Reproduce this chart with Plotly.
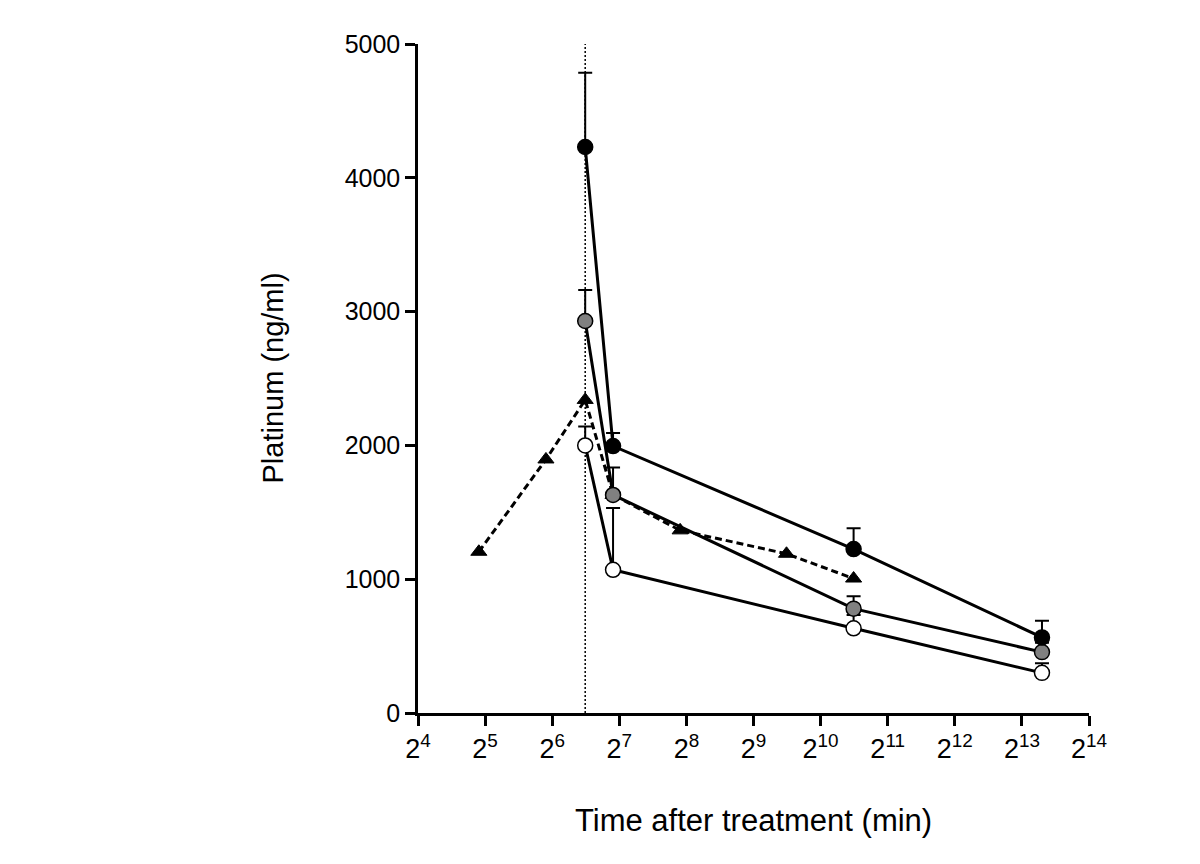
import math
import plotly.graph_objects as go

# Data
times_circles = [90, 120, 1440, 10080]
black_vals = [4230, 1995, 1225, 565]
black_err = [555, 97, 155, 125]
grey_vals = [2930, 1630, 780, 455]
grey_err = [232, 205, 92, 70]
white_vals = [2000, 1070, 633, 300]
white_err = [142, 462, 100, 72]

times_tri = [30, 60, 90, 120, 240, 720, 1440]
tri_vals = [1205, 1895, 2340, 1630, 1365, 1190, 1005]

infusion_end = 90
x_powers = list(range(4, 15))
x_tickvals = [2 ** p for p in x_powers]
x_ticktext = [f"2<sup>{p}</sup>" for p in x_powers]
y_tickvals = [0, 1000, 2000, 3000, 4000, 5000]

FONT = "Liberation Sans, Arial, sans-serif"

fig = go.Figure()

# vertical dotted line at end of infusion
fig.add_trace(go.Scatter(
    x=[infusion_end, infusion_end], y=[0, 5000], mode="lines",
    line=dict(color="black", width=1.5, dash="2px,2px"),
    hoverinfo="skip", showlegend=False))

# triangles (dashed)
fig.add_trace(go.Scatter(
    x=times_tri, y=tri_vals, mode="lines+markers",
    line=dict(color="black", width=3, dash="7px,4px"),
    marker=dict(symbol="triangle-up", size=14, color="black",
                line=dict(color="black", width=1)),
    showlegend=False))


def circle_series(vals, errs, fill):
    return go.Scatter(
        x=times_circles, y=vals, mode="lines+markers",
        line=dict(color="black", width=3),
        marker=dict(symbol="circle", size=15, color=fill,
                    line=dict(color="black", width=1.5)),
        error_y=dict(type="data", symmetric=False, array=errs,
                     arrayminus=[0] * len(errs), color="black",
                     thickness=2, width=7),
        showlegend=False)


fig.add_trace(circle_series(white_vals, white_err, "white"))
fig.add_trace(circle_series(grey_vals, grey_err, "#808080"))
fig.add_trace(circle_series(black_vals, black_err, "black"))

fig.update_layout(
    width=1200, height=864,
    margin=dict(l=410, r=119, t=36, b=159),
    plot_bgcolor="white", paper_bgcolor="white",
    font=dict(family=FONT, color="black"),
    xaxis=dict(
        type="log",
        range=[math.log10(16), math.log10(16384)],
        tickvals=x_tickvals, ticktext=x_ticktext,
        ticks="outside", ticklen=10, tickwidth=2.5, tickcolor="black",
        showline=True, linecolor="black", linewidth=2.5,
        showgrid=False, zeroline=False,
        tickfont=dict(size=27, family=FONT),
    ),
    yaxis=dict(
        range=[0, 5000],
        tickvals=y_tickvals,
        ticks="outside", ticklen=10, tickwidth=2.5, tickcolor="black",
        showline=True, linecolor="black", linewidth=2.5,
        showgrid=False, zeroline=False,
        tickfont=dict(size=25, family=FONT),
    ),
    annotations=[
        dict(text="Time after treatment (min)", xref="paper", yref="paper",
             x=0.5, y=0, xanchor="center", yanchor="middle", yshift=-107,
             showarrow=False, font=dict(size=31, family=FONT)),
        dict(text="Platinum (ng/ml)", xref="paper", yref="paper",
             x=0, y=0.5, xanchor="center", yanchor="middle", xshift=-146,
             textangle=-90, showarrow=False, font=dict(size=29, family=FONT)),
    ],
)

fig.write_html("out.html")
